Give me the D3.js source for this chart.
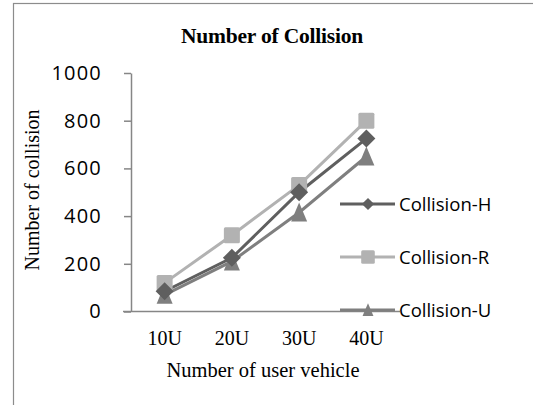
<!DOCTYPE html>
<html>
<head>
<meta charset="utf-8">
<script src="https://cdn.jsdelivr.net/npm/d3@7"></script>
<style>
  body { margin: 0; background: #fff; }
  svg { display: block; }
</style>
</head>
<body>
<div id="chart"></div>
<script>
// chart data
var categories = ['10U', '20U', '30U', '40U'];
var seriesNames = ['Collision-H', 'Collision-R', 'Collision-U'];
var collisionH = [85, 225, 500, 725];
var collisionR = [120, 320, 530, 800];
var collisionU = [70, 210, 415, 650];
var yTicks = [0, 200, 400, 600, 800, 1000];

var width = 533, height = 405;
var margin = {left: 131, right: 133, top: 73, bottom: 93};
var serif = '"Liberation Serif", "Times New Roman", serif';
var sans = '"Open Sans", "Noto Sans", sans-serif';

var series = [
  {name: seriesNames[0], values: collisionH, color: '#5f5f5f', shape: 'diamond'},
  {name: seriesNames[1], values: collisionR, color: '#b2b2b2', shape: 'square'},
  {name: seriesNames[2], values: collisionU, color: '#7f7f7f', shape: 'triangle'}
];

var svg = d3.select('#chart').append('svg')
    .attr('width', width)
    .attr('height', height);

// outer chart frame (cropped at right/bottom)
svg.append('rect')
    .attr('x', 13.5).attr('y', 3.5)
    .attr('width', 540).attr('height', 420)
    .attr('fill', 'none')
    .attr('stroke', '#8c8c8c')
    .attr('stroke-width', 1.2);

var x = d3.scaleBand()
    .domain(categories)
    .range([margin.left, width - margin.right]);

var y = d3.scaleLinear()
    .domain([0, 1000])
    .range([height - margin.bottom - 0.5, margin.top]);

// title
svg.append('text')
    .attr('x', 272).attr('y', 43)
    .attr('text-anchor', 'middle')
    .attr('font-family', serif)
    .attr('font-weight', 'bold')
    .attr('font-size', 21.5)
    .attr('letter-spacing', -0.2)
    .text('Number of Collision');

// y axis
var yAxis = svg.append('g')
    .attr('transform', 'translate(' + margin.left + ',0)')
    .call(d3.axisLeft(y).tickValues(yTicks).tickFormat(d3.format('d'))
      .tickSize(7).tickSizeOuter(0).tickPadding(22));
yAxis.selectAll('path, line').attr('stroke', '#868686').attr('stroke-width', 1.5);
yAxis.selectAll('text')
    .attr('font-family', sans)
    .attr('font-size', 20)
    .attr('letter-spacing', 1.2)
    .attr('fill', '#000');

// x axis
var xAxis = svg.append('g')
    .attr('transform', 'translate(0,' + y(0) + ')')
    .call(d3.axisBottom(x).tickSize(0).tickSizeOuter(0).tickPadding(19));
xAxis.select('path')
    .attr('d', 'M' + (margin.left - 8) + ',0H' + (width - margin.right))
    .attr('stroke', '#868686').attr('stroke-width', 1.5);
xAxis.selectAll('text')
    .attr('font-family', serif)
    .attr('font-size', 20)
    .attr('fill', '#000');

// axis titles
svg.append('text')
    .attr('x', 263).attr('y', 377)
    .attr('text-anchor', 'middle')
    .attr('font-family', serif)
    .attr('font-size', 20.5)
    .text('Number of user vehicle');

svg.append('text')
    .attr('transform', 'translate(39,190) rotate(-90)')
    .attr('text-anchor', 'middle')
    .attr('font-family', serif)
    .attr('font-size', 20)
    .text('Number of collision');

function drawMarker(sel, shape, color, k) {
  if (shape === 'square') {
    sel.append('rect')
      .attr('x', -8 * k).attr('y', -8 * k).attr('width', 16 * k).attr('height', 16 * k)
      .attr('rx', 1.5)
      .attr('fill', color);
  } else if (shape === 'diamond') {
    sel.append('path')
      .attr('d', 'M0,' + (-9 * k) + 'L' + (9 * k) + ',0L0,' + (9 * k) + 'L' + (-9 * k) + ',0Z')
      .attr('fill', color);
  } else {
    sel.append('path')
      .attr('d', 'M0,' + (-10 * k) + 'L' + (8 * k) + ',' + (9 * k) + 'L' + (-8 * k) + ',' + (9 * k) + 'Z')
      .attr('fill', color);
  }
}

var line = d3.line()
    .x(function(d, i) { return x(categories[i]) + x.bandwidth() / 2; })
    .y(function(d) { return y(d); });

// draw order so H sits on top, like the reference
var drawOrder = [series[1], series[2], series[0]];
drawOrder.forEach(function(s) {
  svg.append('path')
    .datum(s.values)
    .attr('d', line)
    .attr('fill', 'none')
    .attr('stroke', s.color)
    .attr('stroke-width', 3);
});
drawOrder.forEach(function(s) {
  s.values.forEach(function(v, i) {
    var g = svg.append('g')
      .attr('transform', 'translate(' + (x(categories[i]) + x.bandwidth() / 2) + ',' + y(v) + ')');
    drawMarker(g, s.shape, s.color, 1);
  });
});

// legend
var legendY = [204, 257, 310];
series.forEach(function(s, i) {
  var g = svg.append('g').attr('transform', 'translate(340,' + legendY[i] + ')');
  g.append('line')
    .attr('x1', 0).attr('x2', 55)
    .attr('stroke', s.color).attr('stroke-width', 3);
  var m = g.append('g').attr('transform', 'translate(28,0)');
  drawMarker(m, s.shape, s.color, s.shape === 'square' ? 0.85 : 0.68);
  g.append('text')
    .attr('x', 59).attr('y', 0).attr('dy', '0.36em')
    .attr('font-family', sans)
    .attr('font-size', 18.5)
    .text(s.name);
});
</script>
</body>
</html>
